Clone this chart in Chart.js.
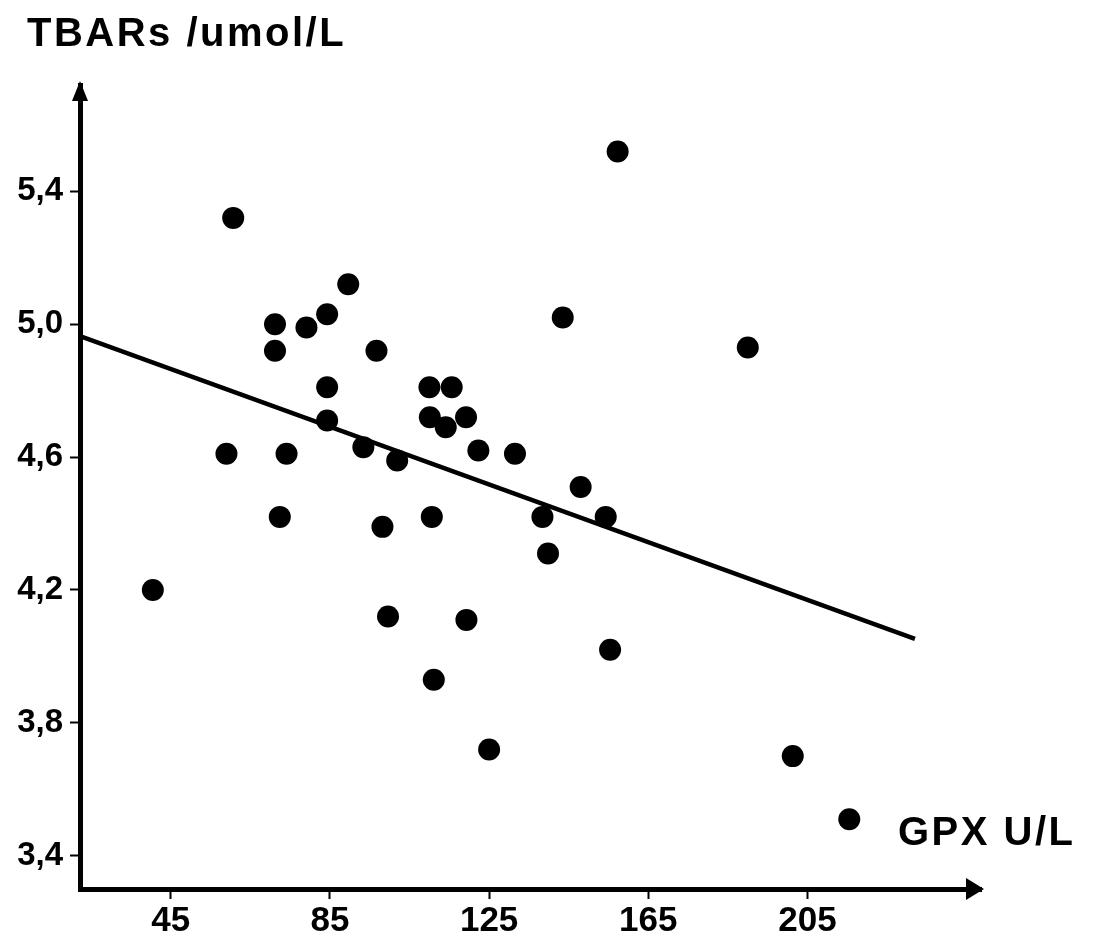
<!DOCTYPE html>
<html>
<head>
<meta charset="utf-8">
<script src="https://cdn.jsdelivr.net/npm/chart.js@4.4.1/dist/chart.umd.min.js"></script>
<style>
  html, body { margin: 0; padding: 0; background: #fff; }
  #wrap { width: 1105px; height: 938px; }
</style>
</head>
<body>
<div id="wrap"><canvas id="gpxChart"></canvas></div>
<script>
// GPX (U/L) vs TBARs (umol/L)
const gpx = [40.5, 60.7, 59.0, 71.2, 71.2, 79.1, 84.3, 89.6, 96.7, 84.3,
  84.3, 74.1, 93.4, 101.9, 110.0, 115.6, 110.1, 114.1, 119.2, 122.3,
  131.5, 143.5, 72.4, 98.2, 110.6, 148.0, 138.4, 154.3, 139.8, 99.6,
  119.3, 155.4, 111.1, 125.0, 157.3, 190.0, 201.3, 215.5];
const tbars = [4.20, 5.32, 4.61, 5.00, 4.92, 4.99, 5.03, 5.12, 4.92, 4.81,
  4.71, 4.61, 4.63, 4.59, 4.81, 4.81, 4.72, 4.69, 4.72, 4.62,
  4.61, 5.02, 4.42, 4.39, 4.42, 4.51, 4.42, 4.42, 4.31, 4.12,
  4.11, 4.02, 3.93, 3.72, 5.52, 4.93, 3.70, 3.51];

// regression line end points
const fitX = [22.2, 232];
const fitY = [4.964, 4.053];

const xTicks = [45, 85, 125, 165, 205];
const yTicks = [3.4, 3.8, 4.2, 4.6, 5.0, 5.4];
const xTitle = 'GPX U/L';
const yTitle = 'TBARs /umol/L';

const fam = '"Liberation Sans", Arial, sans-serif';

// arrow heads and the two axis captions
const axisArt = {
  id: 'axisArt',
  afterDraw(chart) {
    const { ctx, chartArea: a } = chart;
    ctx.save();
    ctx.fillStyle = '#000';
    ctx.beginPath();
    ctx.moveTo(a.left, a.top - 4);
    ctx.lineTo(a.left - 8, a.top + 16);
    ctx.lineTo(a.left + 8, a.top + 16);
    ctx.closePath();
    ctx.fill();

    ctx.beginPath();
    ctx.moveTo(a.right + 3, a.bottom);
    ctx.lineTo(a.right - 15, a.bottom - 11);
    ctx.lineTo(a.right - 15, a.bottom + 11);
    ctx.closePath();
    ctx.fill();

    ctx.font = 'bold 40px ' + fam;
    ctx.letterSpacing = '2.5px';
    ctx.textBaseline = 'alphabetic';
    ctx.textAlign = 'left';
    ctx.fillText(yTitle, 27, 46);
    ctx.fillText(xTitle, 898, 845);
    ctx.restore();
  }
};

new Chart(document.getElementById('gpxChart'), {
  data: {
    datasets: [
      {
        type: 'scatter',
        data: gpx.map((x, i) => ({ x, y: tbars[i] })),
        backgroundColor: '#000',
        borderWidth: 0,
        pointRadius: 11,
        pointHoverRadius: 11
      },
      {
        type: 'line',
        data: fitX.map((x, i) => ({ x, y: fitY[i] })),
        borderColor: '#000',
        borderWidth: 4.5,
        pointRadius: 0,
        fill: false
      }
    ]
  },
  options: {
    responsive: true,
    maintainAspectRatio: false,
    animation: false,
    layout: { padding: { top: 85, right: 124, left: 0, bottom: 0 } },
    plugins: { legend: { display: false }, tooltip: { enabled: false } },
    scales: {
      x: {
        type: 'linear',
        min: 22.2,
        max: 248.6,
        afterBuildTicks: s => { s.ticks = xTicks.map(v => ({ value: v })); },
        afterFit: s => { s.height = 49; },
        ticks: { color: '#000', font: { family: fam, size: 35, weight: 'bold' }, padding: 1, maxRotation: 0, callback: v => String(v) },
        grid: { drawOnChartArea: false, drawTicks: true, tickLength: 10, tickWidth: 2, tickColor: '#000' },
        border: { display: true, color: '#000', width: 5 }
      },
      y: {
        type: 'linear',
        min: 3.30,
        max: 5.72,
        afterBuildTicks: s => { s.ticks = yTicks.map(v => ({ value: v })); },
        afterFit: s => { s.width = 80; },
        ticks: { color: '#000', font: { family: fam, size: 33, weight: 'bold' }, padding: 7, callback: v => v.toFixed(1).replace('.', ',') },
        grid: { drawOnChartArea: false, drawTicks: true, tickLength: 10, tickWidth: 2, tickColor: '#000' },
        border: { display: true, color: '#000', width: 5 }
      }
    }
  },
  plugins: [axisArt]
});
</script>
</body>
</html>
